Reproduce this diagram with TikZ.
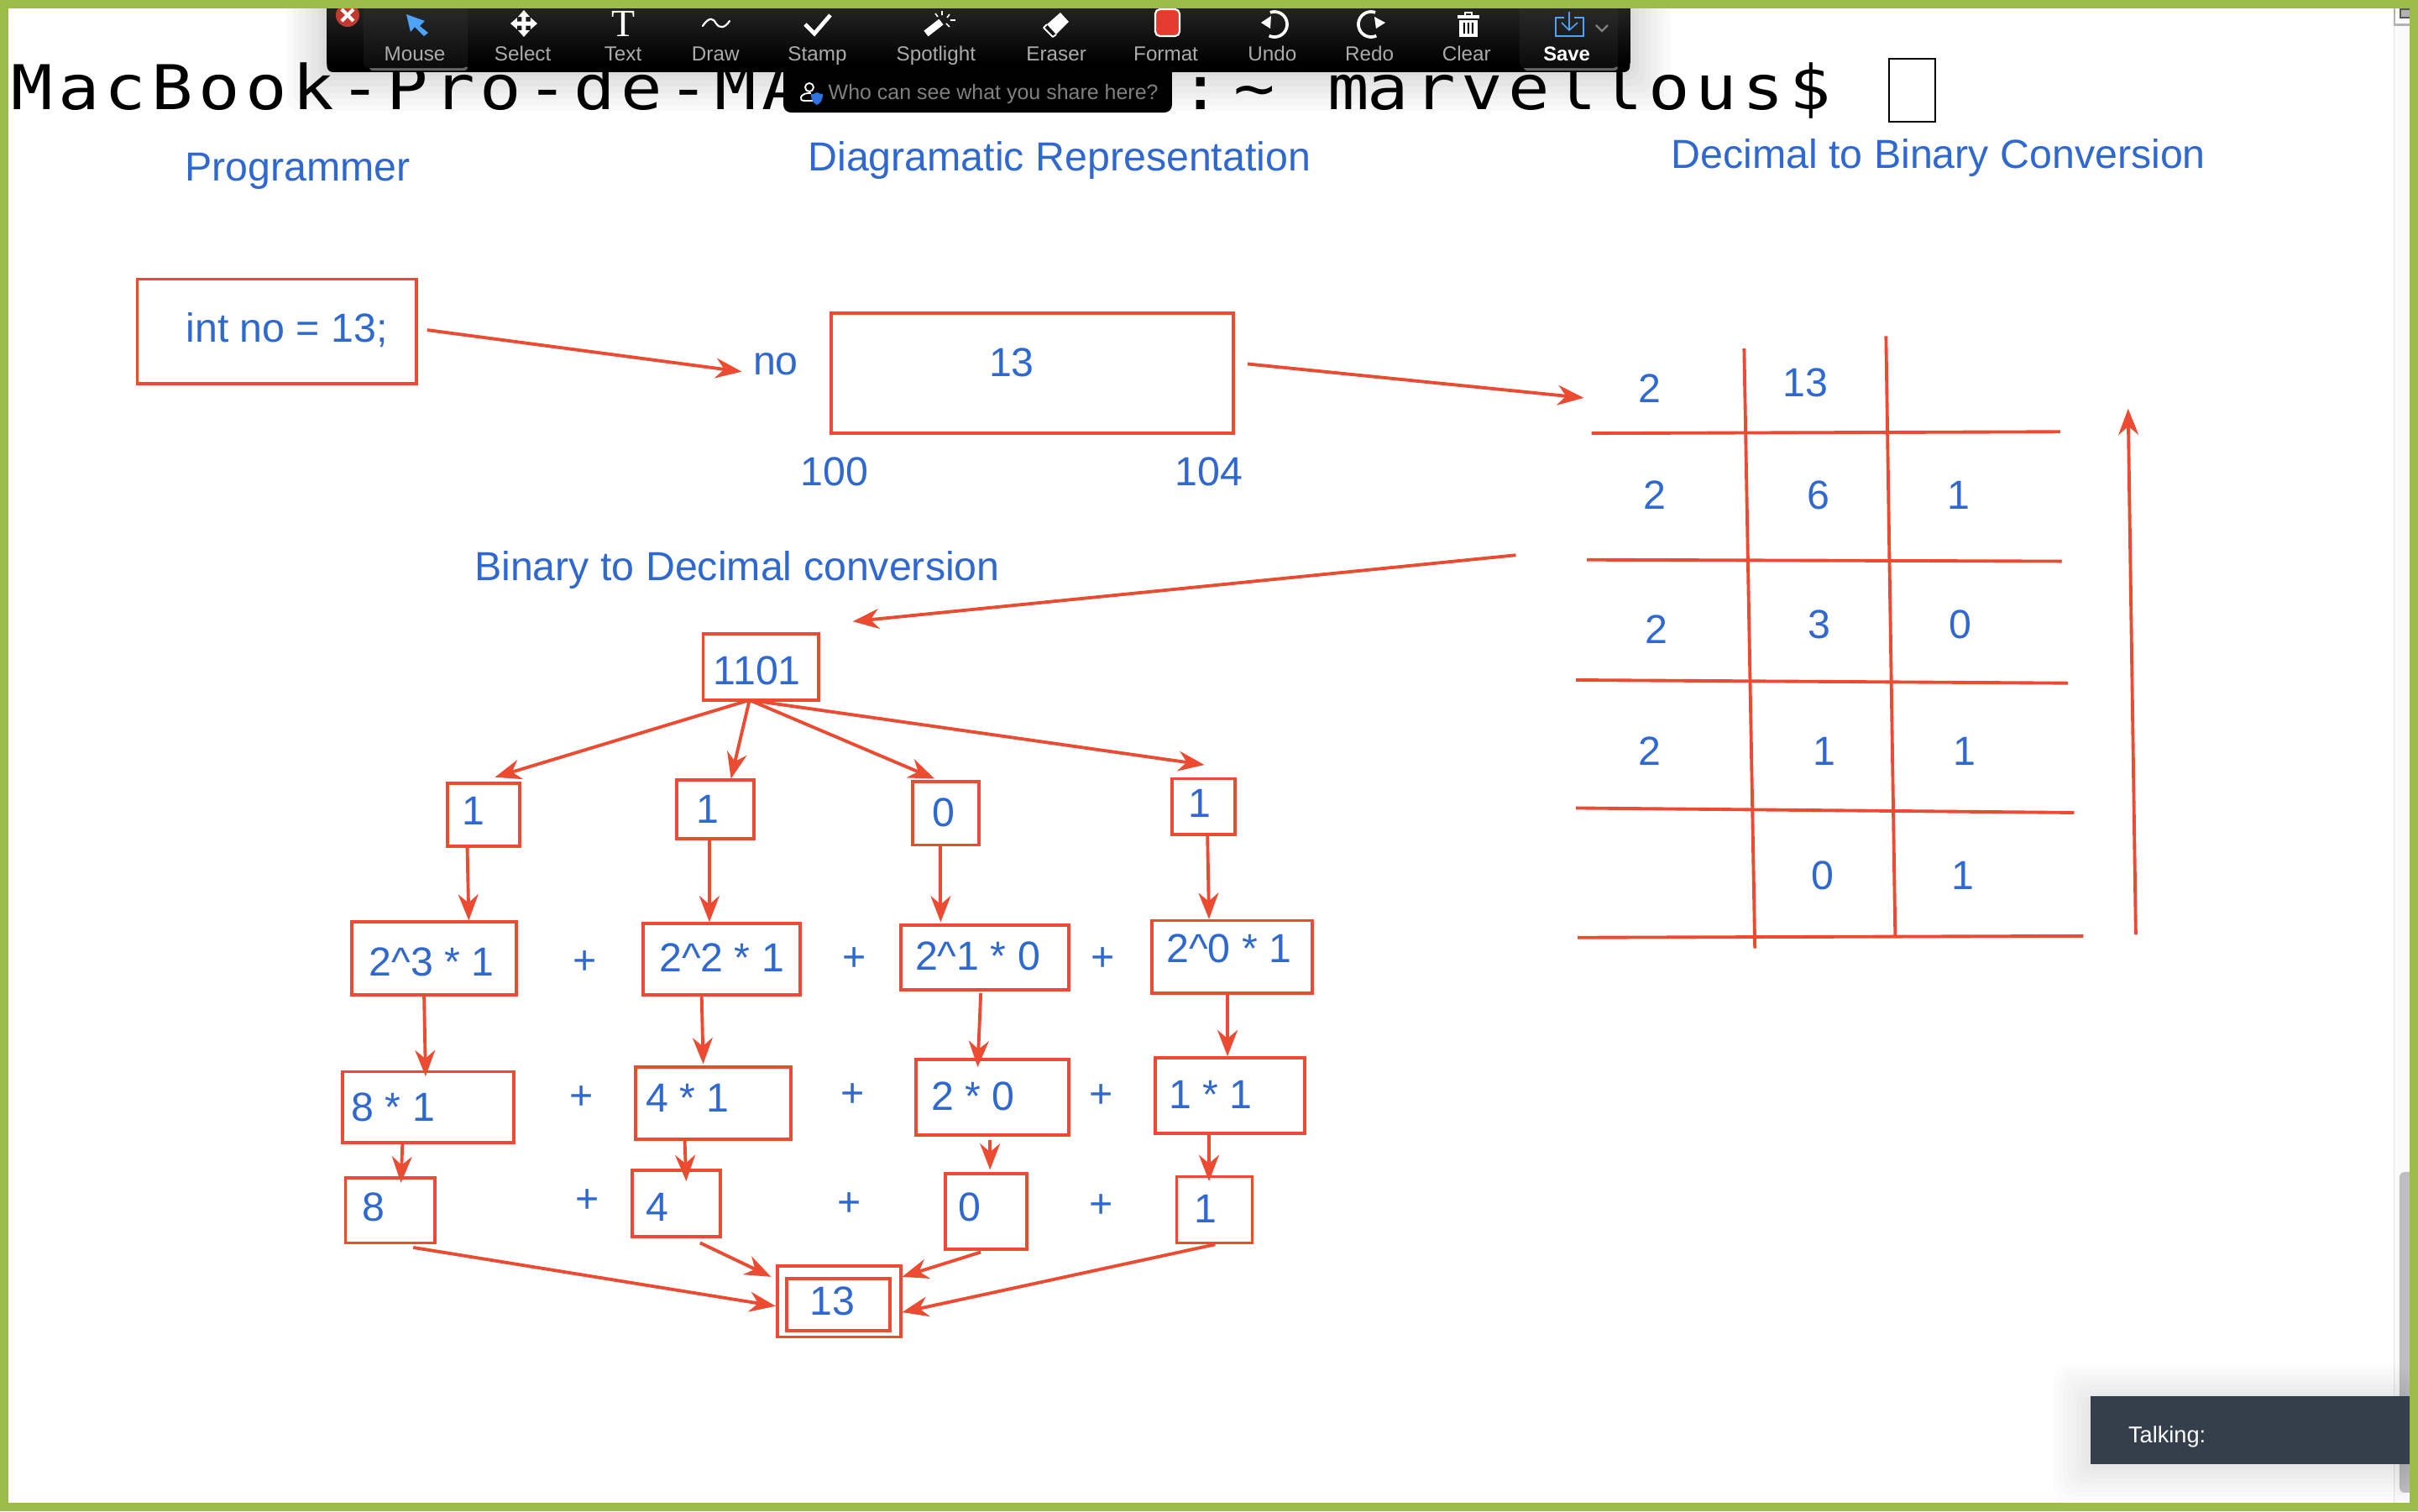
\documentclass[tikz,border=0pt]{standalone}
\usepackage{fontspec}
\setmainfont{Liberation Sans}
\newfontfamily\termfont[LetterSpace=7.7]{DejaVu Sans Mono}
\newfontfamily\serifT{Liberation Serif}
\usetikzlibrary{calc,arrows.meta}
\definecolor{framegreen}{HTML}{9BBC46}
\definecolor{inkblue}{HTML}{2F68CF}
\definecolor{inkred}{HTML}{EC4B31}
\definecolor{panel}{HTML}{353F4C}
\definecolor{iconblue}{HTML}{4DA3F5}
\definecolor{toolgray}{HTML}{ABABAB}
\tikzset{
  box/.style={draw=inkred,line width=2.1pt,inner sep=0pt,outer sep=0pt,fill=none},
  lbl/.style={text=inkblue,font=\fontsize{26.3}{30}\selectfont,inner sep=0pt,outer sep=0pt},
  arw/.style={draw=inkred,line width=2.1pt,-{Stealth[length=17pt,width=13pt,inset=5.5pt]}},
  tline/.style={draw=inkred,line width=2.1pt},
  toollbl/.style={text=toolgray,font=\fontsize{13.2}{15}\selectfont,inner sep=0pt,anchor=base},
  icon/.style={draw=white,line width=1.6pt}
}
\newcommand{\bx}[5]{\pgfmathsetmacro\bw{#4-#2}\pgfmathsetmacro\bh{#5-#3}%
  \node[box,minimum width=\bw pt,minimum height=\bh pt] (#1) at ({(#2+#4)/2},{(#3+#5)/2}) {};}
\newcommand{\arwc}[6]{\draw[arw] ($(#1.center)+(#2,#3)$) -- ($(#4.center)+(#5,#6)$);}
\begin{document}
\begin{tikzpicture}[x=1pt,y=-1pt]
\useasboundingbox (0,0) rectangle (1568,980);
\fill[white] (0,0) rectangle (1568,980);

% right-hand strip and scrollbar
\fill[black!2] (1552,0) rectangle (1563,980);
\fill[black!10] (1552,0) rectangle (1553,980);
\fill[black!25,rounded corners=3pt] (1556,760) rectangle (1570,968);
\fill[black!30] (1552,15.5) rectangle (1563,17);
\fill[black!30] (1552,0) rectangle (1553.2,17);
\draw[black!65,line width=1pt] (1563,6) -- (1556.5,6) -- (1556.5,11.5) -- (1563,11.5);
\fill[black!30] (1557,6.5) rectangle (1563,11);

% soft shadow of the tool bar
\foreach \s in {26,22,18,14,10,6,3}{
  \fill[black,opacity=0.018,rounded corners=8pt] (212-\s,0) rectangle (1057+\s,46+\s);
}

% terminal line
\node[anchor=base west,inner sep=0pt,xscale=1.12,font=\termfont\fontsize{40}{44}\selectfont] (term1) at (7,71) {MacBook-Pro-de-MA};
\node[anchor=base west,inner sep=0pt,xscale=1.12,font=\termfont\fontsize{40}{44}\selectfont] (term2) at (765,71) {:\kern7pt\string~\kern2pt\ \kern1pt m\kern-1pt arvellous\$};
\node[draw=black,line width=1.2pt,fill=white,minimum width=30pt,minimum height=41pt,inner sep=0pt] (cursor) at (1240,58.5) {};

% headings
\node[lbl] (h1) at (193,111) {Programmer};
\node[lbl] (h2) at (687,104) {Diagramatic Representation};
\node[lbl] (h3) at (1257,102.5) {Decimal to Binary Conversion};
\node[lbl] (h4) at (478,369.5) {Binary to Decimal conversion};

% variable
\bx{intbox}{89}{181}{270}{249}
\node[lbl] (inttxt) at (186,214) {int no = 13;};
\node[lbl] (nolbl) at (503,236) {no};
\bx{valbox}{539}{203}{800}{281}
\node[lbl] (valtxt) at (656,235) {13};
\node[lbl] (a100) at (541,306) {100};
\node[lbl] (a104) at (784,306) {104};

% division table
\draw[tline] (1131,226) -- (1138,615);
\draw[tline] (1223,218) -- (1229,608);
\draw[tline] (1032,281) -- (1336,280);
\draw[tline] (1029,363) -- (1337,364);
\draw[tline] (1022,441) -- (1341,443);
\draw[tline] (1022,524) -- (1345,527);
\draw[tline] (1023,608) -- (1351,607);
\node[lbl] (t11) at (1070,252) {2};
\node[lbl] (t12) at (1171,248) {13};
\node[lbl] (t21) at (1073,321) {2};
\node[lbl] (t22) at (1179,321) {6};
\node[lbl] (t23) at (1270,321) {1};
\node[lbl] (t31) at (1074,408) {2};
\node[lbl] (t32) at (1180,405) {3};
\node[lbl] (t33) at (1271,405) {0};
\node[lbl] (t41) at (1070,487) {2};
\node[lbl] (t42) at (1183,487) {1};
\node[lbl] (t43) at (1274,487) {1};
\node[lbl] (t52) at (1182,568) {0};
\node[lbl] (t53) at (1273,568) {1};
\coordinate (upa) at (1385,606);
\coordinate (upb) at (1380,265);
\draw[arw] (upa) -- (upb);

% binary tree
\bx{bin}{456}{411}{531}{454}
\node[lbl] (bintxt) at (491,435) {1101};
\bx{raa}{290}{508}{337}{549}
\node[lbl] at (307,526) {1};
\bx{rab}{439}{506}{489}{544}
\node[lbl] at (459,525) {1};
\bx{rac}{592}{507}{635}{548}
\node[lbl] at (612,527) {0};
\bx{rad}{760}{505}{801}{541}
\node[lbl] at (778,521) {1};

\bx{rba}{228}{598}{335}{645}
\node[lbl] at (280,624) {2\^{}3 * 1};
\bx{rbb}{417}{599}{519}{645}
\node[lbl] at (468,621) {2\^{}2 * 1};
\bx{rbc}{584}{600}{693}{642}
\node[lbl] at (634,620) {2\^{}1 * 0};
\bx{rbd}{747}{597}{851}{644}
\node[lbl] at (797,615) {2\^{}0 * 1};
\node[lbl] (pa1) at (379,624) {+};
\node[lbl] (pa2) at (554,622) {+};
\node[lbl] (pa3) at (715,622) {+};

\bx{rca}{222}{695}{333}{741}
\node[lbl] at (255,718) {8 * 1};
\bx{rcb}{412}{692}{513}{739}
\node[lbl] at (446,712) {4 * 1};
\bx{rcc}{594}{687}{693}{736}
\node[lbl] at (631,711) {2 * 0};
\bx{rcd}{749}{686}{846}{735}
\node[lbl] at (785,710) {1 * 1};
\node[lbl] (pb1) at (377,712) {+};
\node[lbl] (pb2) at (553,710) {+};
\node[lbl] (pb3) at (714,711) {+};

\bx{rda}{224}{764}{282}{806}
\node[lbl] at (242,783) {8};
\bx{rdb}{410}{759}{467}{802}
\node[lbl] at (426,783) {4};
\bx{rdc}{613}{761}{666}{810}
\node[lbl] at (629,783) {0};
\bx{rdd}{763}{763}{812}{806}
\node[lbl] at (782,784) {1};
\node[lbl] (pc1) at (381,779) {+};
\node[lbl] (pc2) at (551,781) {+};
\node[lbl] (pc3) at (714,782) {+};

\bx{outer}{504}{821}{584}{867}
\bx{inner}{510}{829}{577}{863}
\node[lbl] at (540,844) {13};

% connectors
\arwc{intbox}{97.5}{-1}{nolbl}{-22}{5}
\arwc{valbox}{139.5}{-6}{t11}{-43}{6}
\arwc{t31}{-91}{-48}{bin}{59.5}{-29.5}
\arwc{bin}{-7.5}{21.5}{raa}{7.5}{-24.5}
\arwc{bin}{-7.5}{21.5}{rab}{10}{-20}
\arwc{bin}{-7.5}{21.5}{rac}{-7.5}{-22.5}
\arwc{bin}{-7.5}{21.5}{rad}{.5}{-27}
\arwc{raa}{-10.5}{20.5}{rba}{22.5}{-24.5}
\arwc{rab}{-4}{19}{rbb}{-8}{-24}
\arwc{rac}{-3.5}{20.5}{rbc}{-28.5}{-23}
\arwc{rad}{2.5}{18}{rbd}{-15}{-24.5}
\arwc{rba}{-6.5}{24.5}{rca}{-1.5}{-20}
\arwc{rbb}{-13}{24}{rcb}{-6.5}{-25.5}
\arwc{rbc}{-2.5}{23}{rcc}{-9.5}{-19.5}
\arwc{rbd}{-3}{23.5}{rcd}{-1.5}{-25.5}
\arwc{rca}{-16.5}{23}{rda}{7}{-18}
\arwc{rcb}{-18.5}{23.5}{rdb}{6.5}{-14.5}
\arwc{rcc}{-1.5}{28}{rdc}{2.5}{-26.9}
\arwc{rcd}{-13.5}{24.5}{rdd}{-3.5}{-18.5}
\arwc{rda}{15}{24}{outer}{-41}{3}
\arwc{rdb}{15.5}{25.5}{outer}{-44}{-16}
\arwc{rdc}{-3.5}{26.5}{outer}{41}{-16}
\arwc{rdd}{.5}{22.5}{outer}{41}{7}

% Talking panel
\foreach \s in {24,21,18,15,12,9,6,3}{
  \fill[black,opacity=0.012,rounded corners=10pt] (1355.6-\s,905.6-\s+4) rectangle (1563,949.5+\s);
}
\fill[panel] (1355.6,905.6) rectangle (1563,949.5);
\node[anchor=west,inner sep=0pt,text=white,font=\fontsize{14.8}{16}\selectfont] (talk) at (1380,932) {Talking:};

% tool bar: the pill, then the bar itself
\fill[black,rounded corners=5pt] (508,40) rectangle (760,73);
\fill[black,rounded corners=4pt] (212,36) rectangle (1057,46.8);
\shade[top color=black!84,bottom color=black] (212,0) rectangle (1057,41);

\begin{scope}[x=0.54444pt,y=-0.54444pt]
  % selected buttons
  \fill[black!60,rounded corners=2pt] (440,78) rectangle (557,84);
  \shade[top color=black!82,bottom color=black!96,rounded corners=3pt] (433,0) rectangle (557,81);
  \fill[black!60,rounded corners=2pt] (1815,78) rectangle (1927,84);
  \shade[top color=black!82,bottom color=black!96,rounded corners=3pt] (1810,0) rectangle (1927,81);
  % close
  \fill[color={rgb,255:red,194;green,59;blue,51}] (414,18) circle (14);
  \draw[white,line width=2.2pt] (407,11) -- (421,25) (421,11) -- (407,25);
  % mouse
  \fill[iconblue] (484,17) -- (506,25) -- (500,31) -- (510,39) -- (505,43) -- (494,32) -- (489,38) -- cycle;
  % select
  \begin{scope}[shift={(624,28)}]
    \fill[white] (0,-16) -- (-7,-8) -- (-2.5,-8) -- (-2.5,-2.5) -- (-8,-2.5) -- (-8,-7) -- (-16,0) -- (-8,7) -- (-8,2.5) -- (-2.5,2.5) -- (-2.5,8) -- (-7,8) -- (0,16) -- (7,8) -- (2.5,8) -- (2.5,2.5) -- (8,2.5) -- (8,7) -- (16,0) -- (8,-7) -- (8,-2.5) -- (2.5,-2.5) -- (2.5,-8) -- (7,-8) -- cycle;
  \end{scope}
  % text
  \node[inner sep=0pt,text=white,font=\serifT\fontsize{25}{26}\selectfont] (tT) at (743,28) {T};
  % draw
  \draw[white,line width=1.2pt,line cap=round] (837,31) .. controls (845,19) and (850,22) .. (853,28) .. controls (857,34) and (863,34) .. (869,25);
  % stamp
  \draw[white,line width=2.6pt] (959,29) -- (970,40) -- (989,18);
  % spotlight
  \draw[white,line width=4.6pt] (1103,40) -- (1121,26);
  \draw[white,line width=.9pt] (1122,13) -- (1122,18) (1131,17) -- (1128,21) (1132,24) -- (1138,24) (1127,28) -- (1131,32) (1114,16) -- (1117,20);
  % eraser
  \fill[white] (1263,15) -- (1273,26) -- (1258,41) -- (1247,29) -- cycle;
  \draw[white,line width=1pt,line join=round] (1247,29) -- (1243,33) -- (1254,44) -- (1258,41);
  % format
  \fill[color={rgb,255:red,229;green,58;blue,46},draw=white,line width=1.2pt,rounded corners=3pt] (1376,11) rectangle (1405,43);
  % undo
  \draw[white,line width=2pt,domain=-110:115,samples=40,smooth] plot ({1518+15*cos(\x)},{29+15*sin(\x)});
  \fill[white] (1502,27) -- (1514,19) -- (1513,34) -- cycle;
  % redo
  \draw[white,line width=2pt,domain=-70:-295,samples=40,smooth] plot ({1633+15*cos(\x)},{29+15*sin(\x)});
  \fill[white] (1650,27) -- (1637,20) -- (1639,34) -- cycle;
  % clear
  \fill[white] (1738,24) rectangle (1760,44);
  \fill[white] (1736,18) rectangle (1762,22);
  \draw[white,line width=.9pt] (1745,18) -- (1745,15) -- (1753,15) -- (1753,18);
  \fill[black] (1743,27) rectangle (1745,40) (1748,27) rectangle (1750,40) (1753,27) rectangle (1755,40);
  % save
  \draw[iconblue,line width=1.1pt] (1863,21) -- (1853,21) -- (1853,43) -- (1886,43) -- (1886,21) -- (1875,21);
  \draw[iconblue,line width=.9pt] (1869,14) -- (1869,36) (1860,27) -- (1869,36) -- (1879,27);
  \draw[black!50,line width=1.2pt] (1901,30) -- (1908,37) -- (1915,30);
  % who can see
  \draw[white,line width=1pt] (964,104) circle (5);
  \draw[white,line width=1pt] (969,120) -- (958,120) .. controls (951,120) and (953,112) .. (962,111) -- (966,111);
  \fill[color={rgb,255:red,46;green,116;blue,224}] (973,110) .. controls (977,112) and (979,112) .. (980,112) .. controls (980,120) and (977,123) .. (973,125) .. controls (969,123) and (966,120) .. (966,112) .. controls (968,112) and (970,112) .. cycle;
\end{scope}

\node[toollbl] (lMouse) at (269,39.5) {Mouse};
\node[toollbl] (lSelect) at (339,39.5) {Select};
\node[toollbl] (lText) at (404,39.5) {Text};
\node[toollbl] (lDraw) at (464,39.5) {Draw};
\node[toollbl] (lStamp) at (530,39.5) {Stamp};
\node[toollbl] (lSpot) at (607,39.5) {Spotlight};
\node[toollbl] (lEraser) at (685,39.5) {Eraser};
\node[toollbl] (lFormat) at (756,39.5) {Format};
\node[toollbl] (lUndo) at (825,39.5) {Undo};
\node[toollbl] (lRedo) at (888,39.5) {Redo};
\node[toollbl] (lClear) at (951,39.5) {Clear};
\node[toollbl,text=white,font=\bfseries\fontsize{13}{15}\selectfont] (lSave) at (1016,39.5) {Save};
\node[anchor=west,inner sep=0pt,text=black!50,font=\fontsize{13.6}{16}\selectfont] (who) at (537,61) {Who can see what you share here?};

% green frame
\fill[framegreen] (0,0) rectangle (1568,5.5);
\fill[framegreen] (0,974.5) rectangle (1568,980);
\fill[framegreen] (0,0) rectangle (5.5,980);
\fill[framegreen] (1562.5,0) rectangle (1568,980);
\end{tikzpicture}
\end{document}
